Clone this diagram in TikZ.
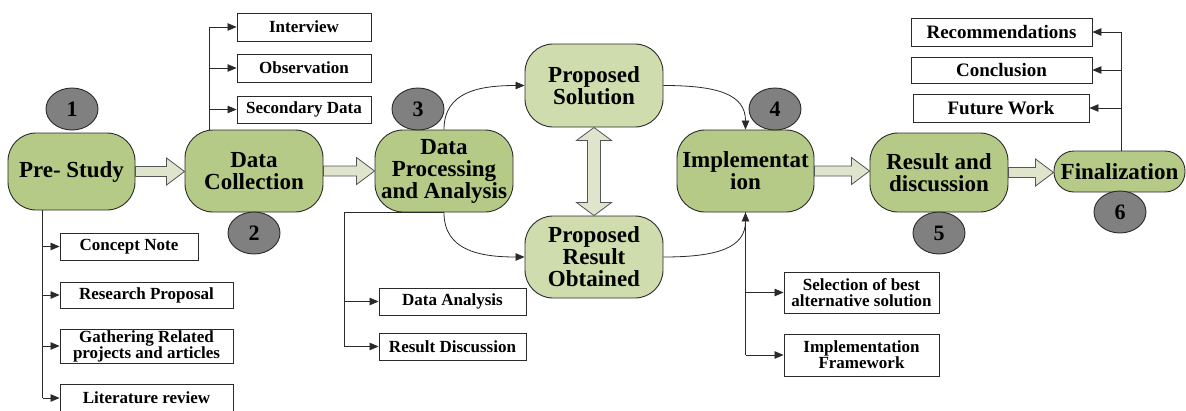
\documentclass[tikz,border=0pt]{standalone}
\usepackage{fontspec}
\setmainfont{Liberation Serif}
\usetikzlibrary{shapes.geometric,arrows.meta,calc}
\definecolor{mainG}{HTML}{B6CA87}
\definecolor{lightG}{HTML}{CEDCAE}
\definecolor{arrG}{HTML}{DFE4CD}
\definecolor{numG}{HTML}{808080}
\definecolor{edgeC}{HTML}{2A2A2A}
\newcommand\harrow[2]{\draw[barrow] let \p1=(#1.east), \p2=(#2.west) in (\x1,\y1+5pt) -- (\x2-18pt,\y1+5pt) -- (\x2-18pt,\y1+13.5pt) -- (\x2,\y1) -- (\x2-18pt,\y1-13.5pt) -- (\x2-18pt,\y1-5pt) -- (\x1,\y1-5pt) -- cycle;}
\begin{document}
\begin{tikzpicture}[x=1pt,y=-1pt,
 stage/.style={draw=edgeC,line width=0.9pt,fill=mainG,rounded corners=28pt,inner sep=0pt,align=center,font=\fontsize{23}{22}\selectfont\bfseries},
 lstage/.style={stage,fill=lightG},
 sbox/.style={draw=edgeC,line width=0.9pt,fill=white,inner sep=0pt,align=center,font=\fontsize{17}{16}\selectfont\bfseries},
 bbox/.style={sbox,font=\fontsize{19}{18}\selectfont\bfseries},
 num/.style={ellipse,draw=edgeC,line width=0.9pt,fill=numG,minimum width=52pt,minimum height=42pt,inner sep=0pt,font=\fontsize{22}{22}\selectfont\bfseries},
 conn/.style={draw=edgeC,line width=0.8pt},
 arr/.style={conn,-{Triangle[length=9pt,width=7.5pt]}},
 barrow/.style={draw=edgeC!80,line width=0.8pt,fill=arrG},
]
\useasboundingbox (0,0) rectangle (1186,410);

% main stages
\node[stage,minimum width=127pt,minimum height=77pt] (pre) at (71.5,171.5) {Pre- Study};
\node[stage,minimum width=138pt,minimum height=82pt] (dc) at (254,171) {Data\\Collection};
\node[stage,minimum width=138pt,minimum height=82pt] (dp) at (444,171) {Data\\Processing\\and Analysis};
\node[lstage,minimum width=138pt,minimum height=83pt] (ps) at (594,85.5) {Proposed\\Solution};
\node[lstage,minimum width=138pt,minimum height=82pt] (pro) at (594,257) {Proposed\\Result\\Obtained};
\node[stage,minimum width=137pt,minimum height=82pt] (impl) at (745.5,171) {Implementat\\ion};
\node[stage,minimum width=138pt,minimum height=79pt] (res) at (939,172.5) {Result and\\discussion};
\node[stage,rounded corners=20pt,minimum width=131pt,minimum height=41pt] (fin) at (1119.5,171.5) {Finalization};

% numbers
\node[num] (n1) at (72,109) {1};
\node[num] (n2) at (254,233) {2};
\node[num] (n3) at (418,109) {3};
\node[num] (n4) at (775,109) {4};
\node[num] (n5) at (939,233) {5};
\node[num] (n6) at (1120,212) {6};

% small boxes
\node[sbox,minimum width=134pt,minimum height=28pt] (interview) at (304,27) {Interview};
\node[sbox,minimum width=134pt,minimum height=28pt] (obs) at (304,68) {Observation};
\node[sbox,minimum width=134pt,minimum height=27pt] (sec) at (304,109.5) {Secondary Data};
\node[sbox,minimum width=138pt,minimum height=27pt] (concept) at (129,246.5) {Concept Note};
\node[sbox,minimum width=173pt,minimum height=26pt] (research) at (146.5,295) {Research Proposal};
\node[sbox,minimum width=173pt,minimum height=34pt] (gather) at (146.5,346) {Gathering Related\\projects and articles};
\node[sbox,minimum width=173pt,minimum height=28pt] (lit) at (146.5,398) {Literature review};
\node[sbox,minimum width=147pt,minimum height=27pt] (da) at (452.5,301.5) {Data Analysis};
\node[sbox,minimum width=147pt,minimum height=27pt] (rd) at (452.5,346.5) {Result Discussion};
\node[sbox,minimum width=155pt,minimum height=41pt] (sel) at (861.5,292.5) {Selection of best\\alternative solution};
\node[sbox,minimum width=155pt,minimum height=42pt] (fw) at (861.5,355) {Implementation\\Framework};
\node[bbox,minimum width=181pt,minimum height=28pt] (rec) at (1001.5,32) {Recommendations};
\node[bbox,minimum width=181pt,minimum height=26pt] (concl) at (1001.5,70) {Conclusion};
\node[bbox,minimum width=176pt,minimum height=28pt] (fut) at (1001,108) {Future Work};

% block arrows
\harrow{pre}{dc}
\harrow{dc}{dp}
\harrow{impl}{res}
\harrow{res}{fin}
\draw[barrow] let \p1=(ps.south), \p2=(pro.north) in
  (\x1,\y1) -- (\x1+17.5pt,\y1-13pt) -- (\x1+6.5pt,\y1-13pt) -- (\x1+6.5pt,\y2+13pt)
  -- (\x1+17.5pt,\y2+13pt) -- (\x2,\y2) -- (\x1-17.5pt,\y2+13pt) -- (\x1-6.5pt,\y2+13pt)
  -- (\x1-6.5pt,\y1-13pt) -- (\x1-17.5pt,\y1-13pt) -- cycle;

% curves
\draw[arr] (dp.north) .. controls +(0,-38) and +(-45,0) .. (ps.west);
\draw[arr] (dp.south) .. controls +(0,38) and +(-45,0) .. (pro.west);
\draw[arr] (ps.east) .. controls +(55,0) and +(0,-35) .. (impl.north);
\draw[arr] (pro.east) .. controls +(55,0) and +(0,35) .. (impl.south);

% branches
\coordinate (pb) at ($(pre.south west)+(35,0)$);
\draw[conn] (pb) -- (pb |- lit.west);
\foreach \n in {concept,research,gather,lit} \draw[arr] (pb |- \n.west) -- (\n.west);

\coordinate (db) at ($(dc.north west)+(25,0)$);
\draw[conn] (db) -- (db |- interview.west);
\foreach \n in {interview,obs,sec} \draw[arr] (db |- \n.west) -- (\n.west);

\coordinate (dpb) at ($(dp.south west)+(-30,0)$);
\draw[conn] (dp.south) -- (dpb) -- (dpb |- rd.west);
\foreach \n in {da,rd} \draw[arr] (dpb |- \n.west) -- (\n.west);

\draw[conn] (impl.south) -- (impl.south |- fw.west);
\foreach \n in {sel,fw} \draw[arr] (impl.south |- \n.west) -- (\n.west);

\coordinate (fb) at ($(fin.north)+(1.5,0)$);
\draw[conn] (fb) -- (fb |- rec.east);
\foreach \n in {rec,concl,fut} \draw[arr] (fb |- \n.east) -- (\n.east);
\end{tikzpicture}
\end{document}
